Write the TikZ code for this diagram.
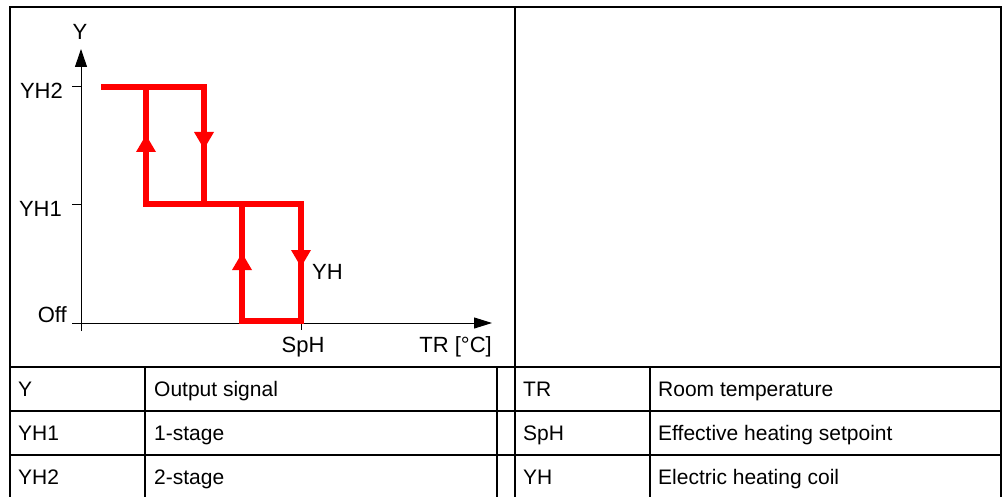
\documentclass[tikz,border=0pt]{standalone}
\usepackage{fontspec}
\setmainfont{Liberation Sans}
\usetikzlibrary{arrows.meta}
\definecolor{hred}{RGB}{255,0,0}
\tikzset{
  grid/.style={line width=2pt, black, line cap=rect},
  axisline/.style={line width=1pt, black},
  axisarrow/.style={axisline, -{Triangle[length=18pt,width=12pt]}},
  curve/.style={line width=5.5pt, hred, line cap=rect, line join=miter},
  chartlbl/.style={inner sep=0pt, font=\fontsize{22}{26}\selectfont},
  celltxt/.style={inner sep=0pt, anchor=base west, font=\fontsize{21}{25}\selectfont},
}
\newcommand\hupmark[3]{\fill[hred] (#1,#2) -- (#1-10,#3) -- (#1+10,#3) -- cycle;}
\begin{document}
\begin{tikzpicture}[x=1pt,y=-1pt]
\useasboundingbox (0,0) rectangle (1003,497);
% table frame
\draw[grid] (10,497) -- (10,7) -- (1001,7) -- (1001,497);
\draw[grid] (10,367) -- (1001,367);
\draw[grid] (10,411) -- (1001,411);
\draw[grid] (10,455) -- (1001,455);
\draw[grid] (515,7) -- (515,497);
\draw[grid] (145,367) -- (145,497);
\draw[grid] (497,367) -- (497,497);
\draw[grid] (650,367) -- (650,497);
% axes
\coordinate (yb) at (81,331);
\coordinate (yt) at (81,49);
\coordinate (xl) at (72,323);
\coordinate (xr) at (492,323);
\draw[axisarrow] (yb) -- (yt);
\draw[axisline, -{Triangle[length=18pt,width=11pt]}] (xl) -- (xr);
\draw[axisline] (72,87) -- (81,87);
\draw[axisline] (72,204) -- (81,204);
\draw[axisline] (301,323) -- (301,330);
% labels
\node[chartlbl, anchor=base] (ylab) at (80,40) {Y};
\node[chartlbl, anchor=base east] (yh2) at (63,99) {YH2};
\node[chartlbl, anchor=base east] (yh1) at (62,216) {YH1};
\node[chartlbl, anchor=base east] (off) at (67,322) {Off};
\node[chartlbl, anchor=base] (sph) at (303,352) {SpH};
\node[chartlbl, anchor=base east] (tr) at (492,352) {TR [°C]};
\node[chartlbl, anchor=base west] (yh) at (312,279) {YH};
% hysteresis curve
\draw[curve] (104,87) -- (204,87) -- (204,204);
\draw[curve] (146,87) -- (146,204) -- (301,204) -- (301,321);
\draw[curve] (242,204) -- (242,321) -- (301,321);
\hupmark{146}{135}{152}
\hupmark{204}{149}{132}
\hupmark{242}{253}{270}
\hupmark{301}{267}{250}
% table text
\node[celltxt] (t1a) at (18,396) {Y};
\node[celltxt] (t1b) at (154,396) {Output signal};
\node[celltxt] (t1c) at (523,396) {TR};
\node[celltxt] (t1d) at (658,396) {Room temperature};
\node[celltxt] (t2a) at (18,440) {YH1};
\node[celltxt] (t2b) at (154,440) {1-stage};
\node[celltxt] (t2c) at (523,440) {SpH};
\node[celltxt] (t2d) at (658,440) {Effective heating setpoint};
\node[celltxt] (t3a) at (18,484) {YH2};
\node[celltxt] (t3b) at (154,484) {2-stage};
\node[celltxt] (t3c) at (523,484) {YH};
\node[celltxt] (t3d) at (658,484) {Electric heating coil};
\end{tikzpicture}
\end{document}
